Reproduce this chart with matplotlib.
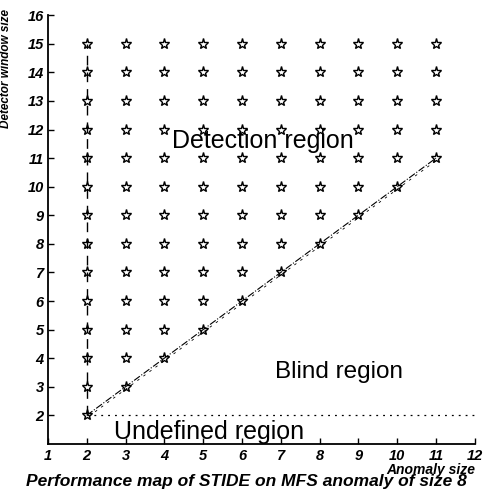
import matplotlib
matplotlib.use("Agg")
import matplotlib.pyplot as plt

plt.rcParams["font.family"] = ["Liberation Sans", "DejaVu Sans"]

# Grid of anomaly sizes / detector window sizes
anomaly_sizes = list(range(2, 12))
window_sizes = list(range(2, 16))

# Detection boundary (window size == anomaly size)
boundary_x = [2, 3, 4, 5, 6, 7, 8, 9, 10, 11]
boundary_y = [2, 3, 4, 5, 6, 7, 8, 9, 10, 11]

# Left edge (anomaly size 2) and undefined-region floor
edge_x = [2, 2]
edge_y = [2, 15]
floor_x = [2, 12]
floor_y = [2, 2]

# Stars wherever the window is at least as big as the anomaly
star_x = [a for a in anomaly_sizes for w in window_sizes if w >= a]
star_y = [w for a in anomaly_sizes for w in window_sizes if w >= a]

fig = plt.figure(figsize=(4.84, 4.90), dpi=100)
ax = fig.add_axes([0.099, 0.094, 0.882, 0.875])

ax.plot(star_x, star_y, ls="none", marker="*", ms=8, mfc="white",
        mec="black", mew=1.0, zorder=2)
ax.plot(edge_x, edge_y, color="black", lw=1.0, ls=(0, (7, 5)), zorder=3)
ax.plot(boundary_x, boundary_y, color="black", lw=0.8, ls="-.", zorder=3)
ax.plot([x + 0.06 for x in boundary_x], [y - 0.03 for y in boundary_y],
        color="black", lw=0.6, ls=(0, (3, 6)), zorder=3)
ax.plot(floor_x, floor_y, color="black", lw=0.9, ls=(0, (1.5, 4)), zorder=3)

ax.text(6.55, 11.6, "Detection region", fontsize=18, ha="center", va="center")
ax.text(8.5, 3.5, "Blind region", fontsize=17.5, ha="center", va="center")
ax.text(5.15, 1.42, "Undefined region", fontsize=18, ha="center", va="center")

ax.set_xlim(1, 12)
ax.set_ylim(1, 16)
ax.set_xticks(range(1, 13))
ax.set_yticks(range(2, 17))
for s in ["top", "right"]:
    ax.spines[s].set_visible(False)
ax.spines["left"].set_linewidth(1.3)
ax.spines["bottom"].set_linewidth(1.3)
ax.tick_params(direction="in", length=4, width=1, labelsize=10.5)
ax.tick_params(axis="x", pad=4)
ax.tick_params(axis="y", pad=3)
for lab in ax.get_xticklabels() + ax.get_yticklabels():
    lab.set_fontweight("bold")
    lab.set_fontstyle("italic")

ax.set_ylabel("Detector window size", fontsize=8.5, fontweight="bold",
              fontstyle="italic")
ax.yaxis.set_label_coords(-0.084, 0.875)
ax.set_xlabel("Anomaly size", fontsize=10, fontweight="bold",
              fontstyle="italic", ha="right", va="top")
ax.xaxis.set_label_coords(1.0, -0.045)

fig.text(0.51, 0.003, "Performance map of STIDE on MFS anomaly of size 8",
         fontsize=12.5, fontweight="bold", fontstyle="italic", ha="center",
         va="bottom")

fig.savefig("out.png", dpi=100)
